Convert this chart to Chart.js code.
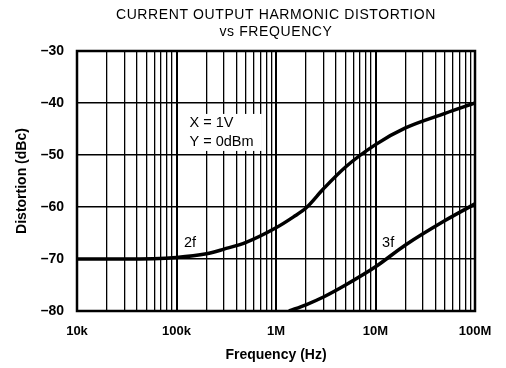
<!DOCTYPE html>
<html>
<head>
<meta charset="utf-8">
<script src="https://cdn.jsdelivr.net/npm/chart.js@4"></script>
<style>
  html, body { margin: 0; padding: 0; background: #fff; }
  #wrap { width: 506px; height: 368px; }
</style>
</head>
<body>
<div id="wrap"><canvas id="distChart" width="506" height="368"></canvas></div>
<script>
// values
const freq2f = [1e4, 3e4, 1e5, 2e5, 3e5, 5e5, 1e6, 1.5e6, 2e6, 3e6, 5e6, 1e7, 2e7, 5e7, 1e8];
const dist2f = [-70, -70, -69.7, -69.0, -68.1, -66.8, -64.0, -61.9, -60.2, -56.5, -52.3, -48.0, -44.8, -42.0, -40.0];
const freq3f = [1.35e6, 2e6, 3e6, 5e6, 1e7, 2e7, 5e7, 1e8];
const dist3f = [-80, -78.8, -77.3, -75.0, -71.5, -67.3, -62.6, -59.4];
const xDecades = [1e4, 1e5, 1e6, 1e7, 1e8];
const xDecadeLabels = ['10k', '100k', '1M', '10M', '100M'];
const yTicks = [-80, -70, -60, -50, -40, -30];
const titleLines = ['CURRENT OUTPUT HARMONIC DISTORTION', 'vs FREQUENCY'];

const FONT = '"Liberation Sans", Arial, Helvetica, sans-serif';

function pts(xs, ys) {
    return xs.map(function (x, i) { return { x: x, y: ys[i] }; });
}

// title, frame and text annotations
const extras = {
    id: 'extras',
    afterDatasetsDraw: function (chart) {
        const ctx = chart.ctx;
        const xs = chart.scales.x, ys = chart.scales.y;
        const a = chart.chartArea;
        ctx.save();
        // title centred over the plot area
        ctx.fillStyle = '#000';
        ctx.font = '14px ' + FONT;
        ctx.textAlign = 'center';
        ctx.textBaseline = 'middle';
        if ('letterSpacing' in ctx) ctx.letterSpacing = '0.6px';
        const cx = (a.left + a.right) / 2;
        ctx.fillText(titleLines[0], cx, 15);
        ctx.fillText(titleLines[1], cx, 32);
        if ('letterSpacing' in ctx) ctx.letterSpacing = '0px';
        // legend box
        const bx = xs.getPixelForValue(1.16e5), by = ys.getPixelForValue(-42.1);
        ctx.fillStyle = '#fff';
        ctx.fillRect(bx, by, 79, 37);
        ctx.fillStyle = '#000';
        ctx.font = '14.5px ' + FONT;
        ctx.textAlign = 'left';
        ctx.fillText('X = 1V', xs.getPixelForValue(1.35e5), ys.getPixelForValue(-43.8));
        ctx.fillText('Y = 0dBm', xs.getPixelForValue(1.35e5), ys.getPixelForValue(-47.5));
        ctx.textAlign = 'center';
        ctx.fillText('2f', xs.getPixelForValue(1.37e5), ys.getPixelForValue(-66.9));
        ctx.fillText('3f', xs.getPixelForValue(1.34e7), ys.getPixelForValue(-66.9));
        // frame
        ctx.strokeStyle = '#000';
        ctx.lineWidth = 2.5;
        ctx.strokeRect(a.left, a.top, a.right - a.left, a.bottom - a.top);
        ctx.restore();
    }
};

new Chart(document.getElementById('distChart').getContext('2d'), {
    type: 'line',
    data: {
        datasets: [{
            label: '2f',
            data: pts(freq2f, dist2f),
            borderColor: '#000',
            borderWidth: 3.5,
            pointRadius: 0,
            cubicInterpolationMode: 'monotone'
        }, {
            label: '3f',
            data: pts(freq3f, dist3f),
            borderColor: '#000',
            borderWidth: 3.5,
            pointRadius: 0,
            cubicInterpolationMode: 'monotone'
        }]
    },
    options: {
        responsive: false,
        animation: false,
        layout: { padding: { left: 14, right: 31, top: 51, bottom: 0 } },
        plugins: {
            legend: { display: false },
            tooltip: { enabled: false },
            title: { display: false }
        },
        scales: {
            x: {
                type: 'logarithmic',
                min: 1e4,
                max: 1e8,
                afterBuildTicks: function (scale) {
                    const t = [];
                    for (let d = 0; d < xDecades.length; d++) {
                        for (let m = 1; m <= 9; m++) {
                            const v = xDecades[d] * m;
                            if (v <= 1e8) t.push({ value: v, major: m === 1 });
                            if (d === xDecades.length - 1) break;
                        }
                    }
                    scale.ticks = t;
                },
                afterFit: function (scale) { scale.height = 57; },
                grid: {
                    color: '#000',
                    lineWidth: function (c) { return c.tick && c.tick.major ? 2 : 1.3; },
                    drawTicks: false
                },
                border: { display: false },
                ticks: {
                    autoSkip: false,
                    maxRotation: 0,
                    padding: 13,
                    color: '#000',
                    font: { family: FONT, size: 13, weight: 'bold' },
                    callback: function (v) {
                        const i = xDecades.indexOf(v);
                        return i >= 0 ? xDecadeLabels[i] : '';
                    }
                },
                title: {
                    display: true,
                    text: 'Frequency (Hz)',
                    color: '#000',
                    font: { family: FONT, size: 14, weight: 'bold' },
                    padding: { top: 0, bottom: 4 }
                }
            },
            y: {
                min: -80,
                max: -30,
                afterBuildTicks: function (scale) {
                    scale.ticks = yTicks.map(function (v) { return { value: v }; });
                },
                afterFit: function (scale) { scale.width = 63; },
                grid: { color: '#000', lineWidth: 1.5, drawTicks: false },
                border: { display: false },
                ticks: {
                    padding: 13,
                    color: '#000',
                    font: { family: FONT, size: 14, weight: 'bold' },
                    callback: function (v) { return String(v).replace('-', '\u2013'); }
                },
                title: {
                    display: true,
                    text: 'Distortion (dBc)',
                    color: '#000',
                    font: { family: FONT, size: 14, weight: 'bold' },
                    padding: { top: 0, bottom: 4 }
                }
            }
        }
    },
    plugins: [extras]
});
</script>
</body>
</html>
